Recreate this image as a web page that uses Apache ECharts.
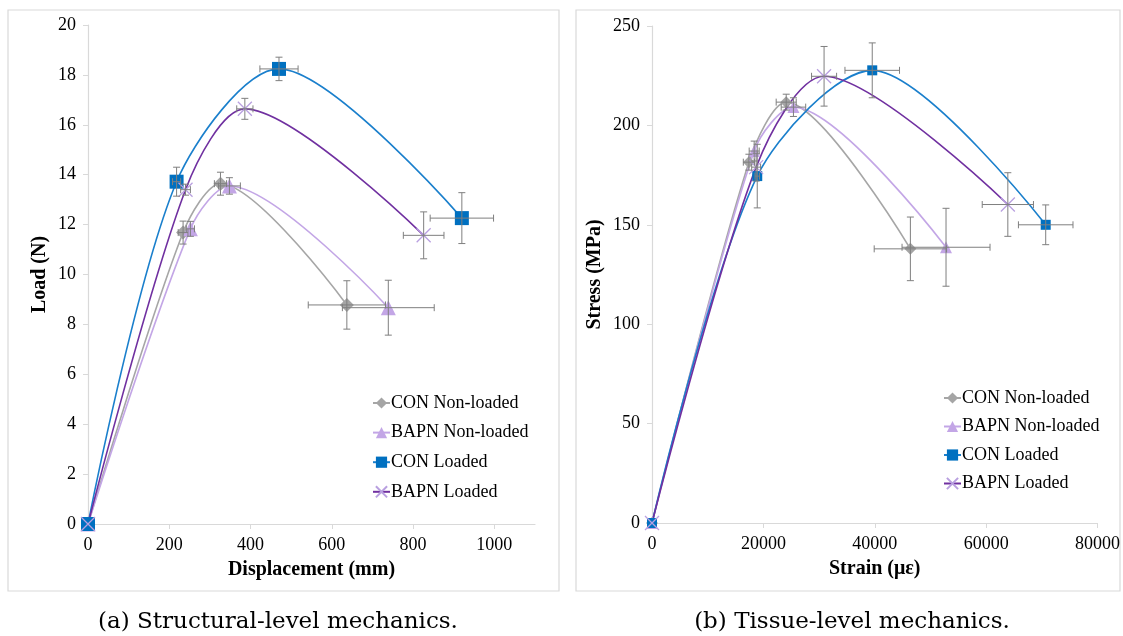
<!DOCTYPE html>
<html>
<head>
<meta charset="utf-8">
<script src="https://cdn.jsdelivr.net/npm/echarts@6/dist/echarts.min.js"></script>
<style>
  html, body { margin: 0; padding: 0; background: #fff; }
  #main { width: 1123px; height: 636px; }
</style>
</head>
<body>
<div id="main"></div>
<script>
// each point: [x, y, xErr, yErr]
// (a) structural level: displacement (mm) vs load (N)
const structConNon  = [[0, 0, 0, 0], [234, 11.68, 12, 0.46], [326, 13.64, 15, 0.46], [637, 8.78, 95, 0.97]];
const structBapnNon = [[0, 0, 0, 0], [252, 11.83, 10, 0.3], [348, 13.55, 27, 0.33], [739, 8.67, 113, 1.1]];
const structConLd   = [[0, 0, 0, 0], [218, 13.72, 10, 0.58], [470, 18.24, 47, 0.47], [920, 12.26, 78, 1.02]];
const structBapnLd  = [[0, 0, 0, 0], [240, 13.4, 12, 0.22], [386, 16.64, 20, 0.42], [826, 11.57, 50, 0.94]];
// (b) tissue level: strain (microstrain) vs stress (MPa)
const tissueConNon  = [[0, 0, 0, 0], [17400, 181.5, 1000, 4], [24100, 211.7, 1800, 4], [46400, 137.9, 6500, 16]];
const tissueBapnNon = [[0, 0, 0, 0], [18350, 187.1, 900, 5], [25400, 209.2, 2200, 4.7], [52800, 138.7, 7900, 19.6]];
const tissueConLd   = [[0, 0, 0, 0], [18900, 174.5, 400, 16], [39550, 227.7, 4900, 13.8], [70700, 150, 4900, 10]];
const tissueBapnLd  = [[0, 0, 0, 0], [18700, 179, 800, 7], [30900, 224.7, 2250, 15], [63900, 160.2, 4600, 16]];

const seriesNames = ['CON Non-loaded', 'BAPN Non-loaded', 'CON Loaded', 'BAPN Loaded'];
const structTicks = [0, 200, 400, 600, 800, 1000];
const tissueTicks = [0, 20000, 40000, 60000, 80000];

const serif = 'Liberation Serif';
const errColor = '#7f7f7f';
const starPath = 'path://M0,0L10,10M10,0L0,10';

const looks = [
  { symbol: 'diamond', marker: '#a5a5a5', line: '#a6a6a6', size: [14, 12] },
  { symbol: 'triangle', marker: '#c3a6e6', line: '#c3a6e6', size: [15, 12] },
  { symbol: 'rect', marker: '#0070c0', line: '#1a7fcc', size: [14, 10] },
  { symbol: starPath, marker: '#b9a0e0', line: '#7030a0', size: [14, 14] }
];

function curve(name, pts, idx, k) {
  const lk = looks[k];
  const isStar = lk.symbol === starPath;
  return {
    type: 'line', name: name,
    xAxisIndex: idx, yAxisIndex: idx,
    data: pts.map(p => [p[0], p[1]]),
    smooth: 0.3,
    clip: false,
    symbol: lk.symbol,
    symbolSize: lk.size[idx],
    itemStyle: { color: isStar ? 'rgba(0,0,0,0)' : lk.marker, borderColor: lk.marker, borderWidth: isStar ? 1.3 : 0 },
    lineStyle: { color: lk.line, width: 1.6 },
    emphasis: { disabled: true },
    z: 3
  };
}

function errBars(pts, idx) {
  return {
    type: 'custom',
    xAxisIndex: idx, yAxisIndex: idx,
    data: pts,
    encode: { x: 0, y: 1 },
    z: 4,
    silent: true,
    renderItem: function (params, api) {
      const x = api.value(0), y = api.value(1), ex = api.value(2), ey = api.value(3);
      const kids = [];
      const st = { stroke: errColor, lineWidth: 1 };
      const cap = 3.5;
      if (ex > 0) {
        const a = api.coord([x - ex, y]), b = api.coord([x + ex, y]);
        kids.push({ type: 'line', shape: { x1: a[0], y1: a[1], x2: b[0], y2: b[1] }, style: st });
        kids.push({ type: 'line', shape: { x1: a[0], y1: a[1] - cap, x2: a[0], y2: a[1] + cap }, style: st });
        kids.push({ type: 'line', shape: { x1: b[0], y1: b[1] - cap, x2: b[0], y2: b[1] + cap }, style: st });
      }
      if (ey > 0) {
        const a = api.coord([x, y - ey]), b = api.coord([x, y + ey]);
        kids.push({ type: 'line', shape: { x1: a[0], y1: a[1], x2: b[0], y2: b[1] }, style: st });
        kids.push({ type: 'line', shape: { x1: a[0] - cap, y1: a[1], x2: a[0] + cap, y2: a[1] }, style: st });
        kids.push({ type: 'line', shape: { x1: b[0] - cap, y1: b[1], x2: b[0] + cap, y2: b[1] }, style: st });
      }
      return { type: 'group', children: kids };
    }
  };
}

const axisGray = '#d9d9d9';
function xAx(idx, max, interval, title, ticks) {
  return {
    type: 'value', gridIndex: idx, min: 0, max: max, interval: interval,
    name: title, nameLocation: 'middle', nameGap: 36,
    nameTextStyle: { fontFamily: serif, fontWeight: 'bold', fontSize: 20, color: '#000' },
    axisLine: { show: true, lineStyle: { color: axisGray, width: 1.2 } },
    axisTick: { show: true, length: 5, customValues: ticks, lineStyle: { color: axisGray } },
    axisLabel: { fontFamily: serif, fontSize: 18, color: '#000', margin: 12, customValues: ticks,
      formatter: v => String(v) },
    splitLine: { show: false }
  };
}
function yAx(idx, max, interval, title, gap) {
  return {
    type: 'value', gridIndex: idx, min: 0, max: max, interval: interval,
    name: title, nameLocation: 'middle', nameGap: gap,
    nameTextStyle: { fontFamily: serif, fontWeight: 'bold', fontSize: 20, color: '#000' },
    axisLine: { show: true, lineStyle: { color: axisGray, width: 1.2 } },
    axisTick: { show: true, length: 5, lineStyle: { color: axisGray } },
    axisLabel: { fontFamily: serif, fontSize: 18, color: '#000', margin: 12 },
    splitLine: { show: false }
  };
}

function legendAt(left, top, gap) {
  return {
    orient: 'vertical', left: left, top: top,
    data: seriesNames,
    itemWidth: 17, itemHeight: 14, itemGap: gap,
    padding: 0,
    textStyle: { fontFamily: serif, fontSize: 18, color: '#000', lineHeight: 18, padding: [0, 0, 0, -4] },
    selectedMode: false
  };
}

const structSets = [structConNon, structBapnNon, structConLd, structBapnLd];
const tissueSets = [tissueConNon, tissueBapnNon, tissueConLd, tissueBapnLd];
const series = [];
structSets.forEach((s, k) => series.push(curve(seriesNames[k], s, 0, k)));
tissueSets.forEach((s, k) => series.push(curve(seriesNames[k], s, 1, k)));
structSets.forEach(s => series.push(errBars(s, 0)));
tissueSets.forEach(s => series.push(errBars(s, 1)));

const chart = echarts.init(document.getElementById('main'));
chart.setOption({
  animation: false,
  backgroundColor: '#fff',
  grid: [
    { left: 88, top: 25, width: 447, height: 499 },
    { left: 652, top: 26, width: 447, height: 497 }
  ],
  xAxis: [
    xAx(0, 1100, 200, 'Displacement (mm)', structTicks),
    xAx(1, 80000, 20000, 'Strain (\u03bc\u03b5)', tissueTicks)
  ],
  yAxis: [
    yAx(0, 20, 2, 'Load (N)', 38),
    yAx(1, 250, 50, 'Stress (MPa)', 47)
  ],
  legend: [legendAt(372, 394, 11.6), legendAt(943, 389, 10.5)],
  graphic: [
    { type: 'rect', shape: { x: 8, y: 10, width: 551, height: 581 }, style: { fill: 'none', stroke: axisGray, lineWidth: 1.2 }, z: -1 },
    { type: 'rect', shape: { x: 576, y: 10, width: 544, height: 581 }, style: { fill: 'none', stroke: axisGray, lineWidth: 1.2 }, z: -1 },
    { type: 'text', x: 278, y: 622, style: { text: '(a) Structural-level mechanics.', font: '23px "DejaVu Serif"', fill: '#000', textAlign: 'center', textVerticalAlign: 'middle' } },
    { type: 'text', x: 852, y: 622, style: { text: '(b) Tissue-level mechanics.', font: '23px "DejaVu Serif"', fill: '#000', textAlign: 'center', textVerticalAlign: 'middle' } }
  ],
  series: series
});
</script>
</body>
</html>
